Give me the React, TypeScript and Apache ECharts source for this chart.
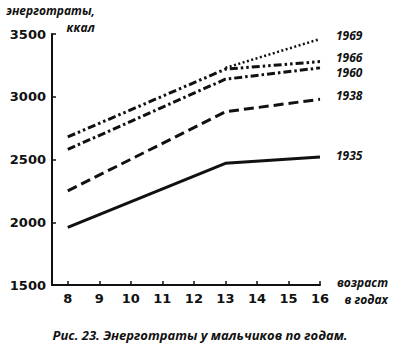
import React, { useEffect, useRef } from "react";
import * as echarts from "echarts";

const ages = [8, 13, 16];
const xTicks = [8, 9, 10, 11, 12, 13, 14, 15, 16];
const s1935 = [1960, 2470, 2520];
const s1938 = [2250, 2880, 2980];
const s1960 = [2580, 3140, 3230];
const s1966 = [2680, 3220, 3280];
const s1969 = [null, 3230, 3460];
const yTitle = ["энерготраты,", "ккал"];
const xTitle = ["возраст", "в годах"];
const caption = "Рис. 23. Энерготраты у мальчиков по годам.";

const INK = "#111";
const ITALIC = "'Open Sans', sans-serif";

function pairs(vals: (number | null)[]) {
  return ages
    .map((a, i) => (vals[i] == null ? null : [a, vals[i]]))
    .filter((p) => p !== null);
}

function line(name: string, vals: (number | null)[], type: any, width: number, dy: number) {
  return {
    type: "line",
    name,
    data: pairs(vals),
    symbol: "none",
    lineStyle: { color: INK, width, type, cap: "butt" },
    endLabel: {
      show: true,
      formatter: "{a}",
      distance: 16,
      offset: [0, dy],
      fontFamily: ITALIC,
      fontStyle: "italic",
      fontWeight: "bold",
      fontSize: 12,
      lineHeight: 12,
      color: INK,
    },
  };
}

export default function App() {
  const ref = useRef<HTMLDivElement>(null);
  useEffect(() => {
    if (!ref.current) return;
    const chart = echarts.init(ref.current, null, { renderer: "svg" });
    const titleStyle = {
      fontFamily: ITALIC,
      fontStyle: "italic",
      fontWeight: "bold",
      fontSize: 12,
      fill: INK,
      align: "right",
      verticalAlign: "middle",
    };
    chart.setOption({
      animation: false,
      backgroundColor: "#fff",
      grid: { left: 52, right: 80, top: 34, bottom: 69 },
      xAxis: {
        type: "value",
        min: 7.5,
        max: 16,
        splitLine: { show: false },
        axisLine: { lineStyle: { color: INK, width: 2 } },
        axisTick: { inside: true, length: 4, lineStyle: { color: INK, width: 1.5 }, customValues: xTicks },
        axisLabel: {
          customValues: xTicks,
          margin: 7,
          fontFamily: "DejaVu Sans",
          fontWeight: "bold",
          fontSize: 13,
          color: INK,
        },
      },
      yAxis: {
        type: "value",
        min: 1500,
        max: 3500,
        interval: 500,
        splitLine: { show: false },
        axisLine: { show: true, lineStyle: { color: INK, width: 2 } },
        axisTick: { show: true, inside: true, length: 4, lineStyle: { color: INK, width: 1.5 } },
        axisLabel: {
          margin: 6,
          formatter: (v: number) => String(v),
          fontFamily: "DejaVu Sans",
          fontWeight: "bold",
          fontSize: 13,
          color: INK,
        },
      },
      series: [
        line("1935", s1935, "solid", 3, -1),
        line("1938", s1938, [10, 5], 3, -4),
        line("1960", s1960, [8, 3, 2.5, 3], 3, 5),
        line("1966", s1966, [8, 3, 2.5, 3, 2.5, 3], 3, -4),
        line("1969", s1969, [2, 2.5], 2.5, -4),
      ],
      graphic: [
        { type: "text", x: 95, y: 10, style: { ...titleStyle, text: yTitle[0] } },
        { type: "text", x: 95, y: 27, style: { ...titleStyle, text: yTitle[1] } },
        { type: "text", x: 388, y: 282, style: { ...titleStyle, text: xTitle[0] } },
        { type: "text", x: 388, y: 299, style: { ...titleStyle, text: xTitle[1] } },
        {
          type: "text",
          left: "center",
          top: 328,
          style: {
            fontFamily: ITALIC,
            fontStyle: "italic",
            fontWeight: "bold",
            fontSize: 13,
            fill: INK,
            text: caption,
          },
        },
      ],
    });
    return () => chart.dispose();
  }, []);
  return (
    <div
      ref={ref}
      style={{ position: "fixed", left: 0, top: 0, width: 400, height: 354, background: "#fff" }}
    />
  );
}
